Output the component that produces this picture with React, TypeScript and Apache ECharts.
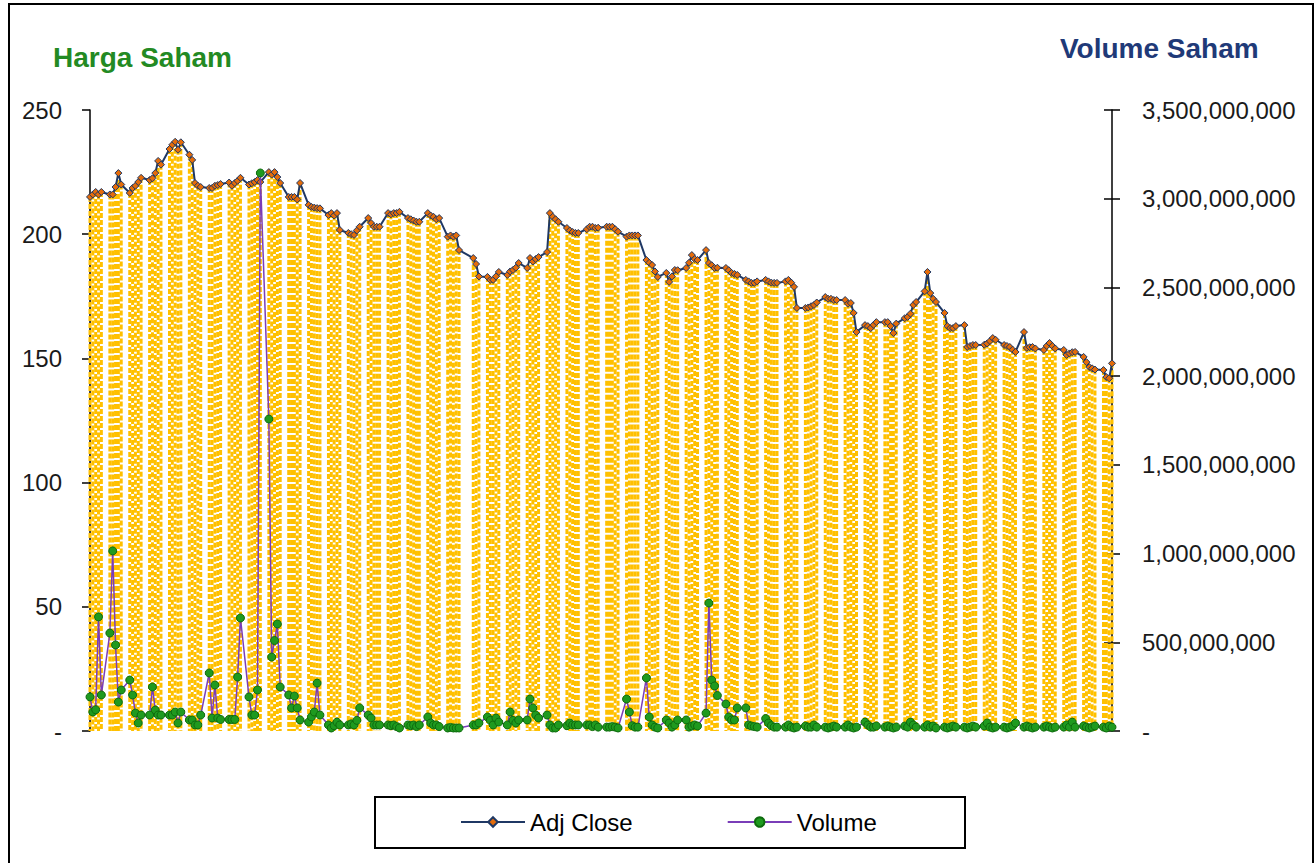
import React, { useEffect, useRef } from 'react';
import * as echarts from 'echarts';

const FONT = '"Liberation Sans", Arial, sans-serif';

// Trading days grouped Monday..Friday per week (null = market holiday)
const adjClose: (number | null)[] = [
  215, 216, 217, 216, 217,
  216, 216, 219, 224.6, 220,
  216.6, 218.6, 219.5, 221, 222.7,
  221.8, 222.5, 224.6, 229.5, 228,
  234.3, 236, 237.2, 234, 237,
  232, 229.9, 220.6, 219.5, 219,
  218.6, 218.6, 219.5, 219.8, 220.2,
  220.8, 219.5, 220.6, 221.5, 222.7,
  220, 220.5, 221, 221.8, 221,
  225, 224, 225, 223, 220.6,
  215, 215, 215, 214, 220.6,
  211.8, 211, 210.7, 210.5, 210.4,
  207.7, 208.5, 207.5, 208.5, 201.7,
  200.5, 200, 199.7, 201.5, 203,
  206.5, 204.5, 203, 203, 203,
  208.5, 208, 208.5, 208.5, 209,
  206.5, 206, 205.5, 205, 205,
  208.5, 207.5, 207, 206, 206.5,
  199, 199.5, 199, 199.5, 193.6,
  null, null, 190.4, 188, 183,
  182.8, 181.6, 181.6, 183, 184.8,
  183.6, 185, 185.6, 186.5, 188.4,
  186.4, 190.4, 189, 190, 190.8,
  192.8, 208.5, 207, 206, 205,
  202.5, 201.5, 200.9, 200.5, 200.5,
  202, 203, 203, 202.5, 202.6,
  203, 203, 203, 202, 201,
  199, 199.5, 199.5, 199.5, 199.5,
  189.6, 188.5, 187.6, 185, 182.8,
  184.4, 180.8, 183, 185.6, 185.5,
  186.4, 188.5, 191.6, 190, 189.6,
  193.6, 188.4, 187.5, 186.4, 186.5,
  186.4, 185.5, 184.4, 184, 183.6,
  181.6, 181, 180.4, 180.4, 181,
  181.6, 181, 180.5, 180.4, 180.4,
  181, 181.6, 180.5, 178.8, 170.3,
  170.3, 170.5, 171, 171.5, 172.5,
  174.7, 174, 174, 173.5, 173.5,
  173.5, 172, 172.3, 168.3, 160.6,
  163.4, 163, 162.2, 163.5, 164.6,
  164.6, 164.6, 163, 160.2, 164,
  166.2, 166.7, 168, 171.5, 172.7,
  177, 184.8, 176.3, 174, 172.7,
  168.3, 163, 162.2, 162.2, 163,
  163.4, 154.6, 155, 155.4, 155.4,
  155.5, 156, 157, 158.2, 157.5,
  155.4, 155, 154.6, 153.5, 152.6,
  160.6, 154.2, 154.5, 154.6, 154,
  153.4, 155, 156.2, 155, 154,
  153.4, 151.4, 152, 152.5, 152.6,
  150.6, 148.5, 146.5, 146, 145.5,
  145.3, 142.5, 142, 148,
];

// Volume in millions of shares, same trading-day layout
const volumeMillions: (number | null)[] = [
  192, 107, 120, 643, 203,
  552, 1015, 485, 163, 231,
  287, 203, 101, 45, 90,
  90, 248, 118, 90, 90,
  90, 90, 107, 45, 107,
  62, 62, 34, 34, 90,
  327, 73, 259, 73, 65,
  65, 65, 65, 304, 637,
  192, 90, 90, 231, 3145,
  1758, 417, 510, 603, 248,
  203, 130, 197, 130, 62,
  50, 80, 107, 270, 90,
  34, 17, 30, 50, 34,
  34, 40, 34, 60, 130,
  90, 73, 34, 34, 34,
  34, 30, 34, 25, 17,
  34, 30, 34, 25, 34,
  79, 45, 34, 34, 25,
  17, 20, 17, 17, 17,
  null, null, 34, 34, 45,
  79, 60, 34, 73, 50,
  34, 107, 60, 45, 62,
  62, 180, 130, 90, 73,
  90, 34, 17, 17, 34,
  30, 45, 34, 34, 34,
  34, 34, 25, 34, 22,
  22, 22, 25, 22, 17,
  180, 107, 30, 22, 22,
  299, 79, 34, 22, 17,
  62, 45, 22, 34, 62,
  62, 22, 28, 34, 28,
  101, 721, 287, 254, 200,
  152, 79, 62, 62, 130,
  130, 34, 28, 25, 22,
  70, 45, 30, 22, 22,
  22, 34, 22, 17, 22,
  28, 22, 22, 34, 22,
  22, 17, 22, 28, 22,
  22, 34, 22, 17, 22,
  50, 34, 22, 22, 28,
  22, 28, 22, 17, 22,
  28, 22, 50, 34, 22,
  22, 34, 22, 28, 17,
  22, 17, 22, 28, 22,
  22, 17, 22, 28, 22,
  28, 45, 22, 17, 22,
  22, 17, 22, 28, 45,
  22, 28, 22, 17, 22,
  22, 28, 22, 17, 22,
  22, 34, 22, 50, 22,
  28, 22, 17, 22, 28,
  22, 17, 28, 22,
];

const priceTicks = { min: 0, max: 250, interval: 50 };
const volumeTicks = { min: 0, max: 3500000000, interval: 500000000 };
const seriesNames = ['Adj Close', 'Volume'];

// calendar-day position of the i-th trading day (5 trading days per 7-day week)
const dayOf = (i: number) => Math.floor(i / 5) * 7 + (i % 5);

export default function App() {
  const ref = useRef<HTMLDivElement>(null);
  useEffect(() => {
    const chart = echarts.init(ref.current!, null, { renderer: 'svg' });
    const pricePts: number[][] = [];
    const volPts: number[][] = [];
    adjClose.forEach((v, i) => { if (v != null) pricePts.push([dayOf(i), v]); });
    volumeMillions.forEach((v, i) => { if (v != null) volPts.push([dayOf(i), v * 1e6]); });
    const lastDay = dayOf(adjClose.length - 1);

    chart.setOption({
      animation: false,
      backgroundColor: '#ffffff',
      grid: { left: 90, right: 203, top: 110, bottom: 132 },
      xAxis: { type: 'value', min: 0, max: lastDay, show: false },
      yAxis: [
        {
          type: 'value', position: 'left', ...priceTicks,
          axisLine: { show: true, lineStyle: { color: '#000', width: 1.5 } },
          axisTick: { show: true, length: 8, lineStyle: { color: '#000', width: 1.5 } },
          splitLine: { show: false },
          axisLabel: {
            margin: 28, fontSize: 24, color: '#1a1a1a', fontFamily: FONT,
            formatter: (v: number) => (v === 0 ? '-' : String(v)),
          },
        },
        {
          type: 'value', position: 'right', offset: 0, ...volumeTicks,
          axisLine: { show: true, lineStyle: { color: '#000', width: 1.5 } },
          axisTick: { show: true, length: 8, lineStyle: { color: '#000', width: 1.5 } },
          splitLine: { show: false },
          axisLabel: {
            margin: 30, fontSize: 24, color: '#1a1a1a', fontFamily: FONT,
            formatter: (v: number) => (v === 0 ? '-' : v.toLocaleString('en-US')),
          },
        },
        {
          type: 'value', position: 'right', offset: 0, ...volumeTicks,
          axisLine: { show: false },
          axisTick: { show: true, inside: true, length: 8, lineStyle: { color: '#000', width: 1.5 } },
          axisLabel: { show: false },
          splitLine: { show: false },
        },
      ],
      legend: {
        data: seriesNames,
        left: 460, top: 810, padding: 0,
        itemWidth: 64, itemHeight: 12, itemGap: 94,
        textStyle: { fontSize: 24, color: '#000', fontFamily: FONT },
      },
      graphic: [
        { type: 'rect', shape: { x: 9, y: 4, width: 1304, height: 900 }, style: { fill: 'none', stroke: '#000', lineWidth: 2 }, silent: true },
        { type: 'rect', shape: { x: 375, y: 797, width: 590, height: 51 }, style: { fill: 'none', stroke: '#000', lineWidth: 2 }, silent: true },
        { type: 'text', x: 53, y: 57, style: { text: 'Harga Saham', fill: '#238A23', font: `bold 28px ${FONT}`, textVerticalAlign: 'middle' } },
        { type: 'text', x: 1060, y: 48, style: { text: 'Volume Saham', fill: '#1F3A78', font: `bold 28px ${FONT}`, textVerticalAlign: 'middle' } },
      ],
      series: [
        {
          type: 'custom', name: 'drop', xAxisIndex: 0, yAxisIndex: 0, silent: true, z: 1,
          data: pricePts,
          renderItem: (_p: any, api: any) => {
            const x = api.value(0);
            const top = api.coord([x, api.value(1)]);
            const bot = api.coord([x, 0]);
            return {
              type: 'line',
              shape: { x1: top[0], y1: top[1], x2: bot[0], y2: bot[1] },
              style: { stroke: '#FFC000', lineWidth: 3, lineDash: [5, 2] },
            };
          },
        },
        {
          type: 'line', name: seriesNames[0], xAxisIndex: 0, yAxisIndex: 0, z: 3,
          data: pricePts, showAllSymbol: true,
          symbol: 'diamond', symbolSize: 7,
          lineStyle: { color: '#1F3864', width: 2 },
          itemStyle: { color: '#E46C0A', borderColor: '#1F3864', borderWidth: 1 },
        },
        {
          type: 'line', name: seriesNames[1], xAxisIndex: 0, yAxisIndex: 1, z: 4,
          data: volPts, showAllSymbol: true,
          symbol: 'circle', symbolSize: 8,
          lineStyle: { color: '#7A3DB8', width: 1.5 },
          itemStyle: { color: '#1F9A1F', borderColor: '#0E6B0E', borderWidth: 1 },
        },
      ],
    });
    return () => chart.dispose();
  }, []);
  return (
    <div
      ref={ref}
      style={{ position: 'fixed', left: 0, top: 0, width: 1315, height: 863, background: '#fff' }}
    />
  );
}
